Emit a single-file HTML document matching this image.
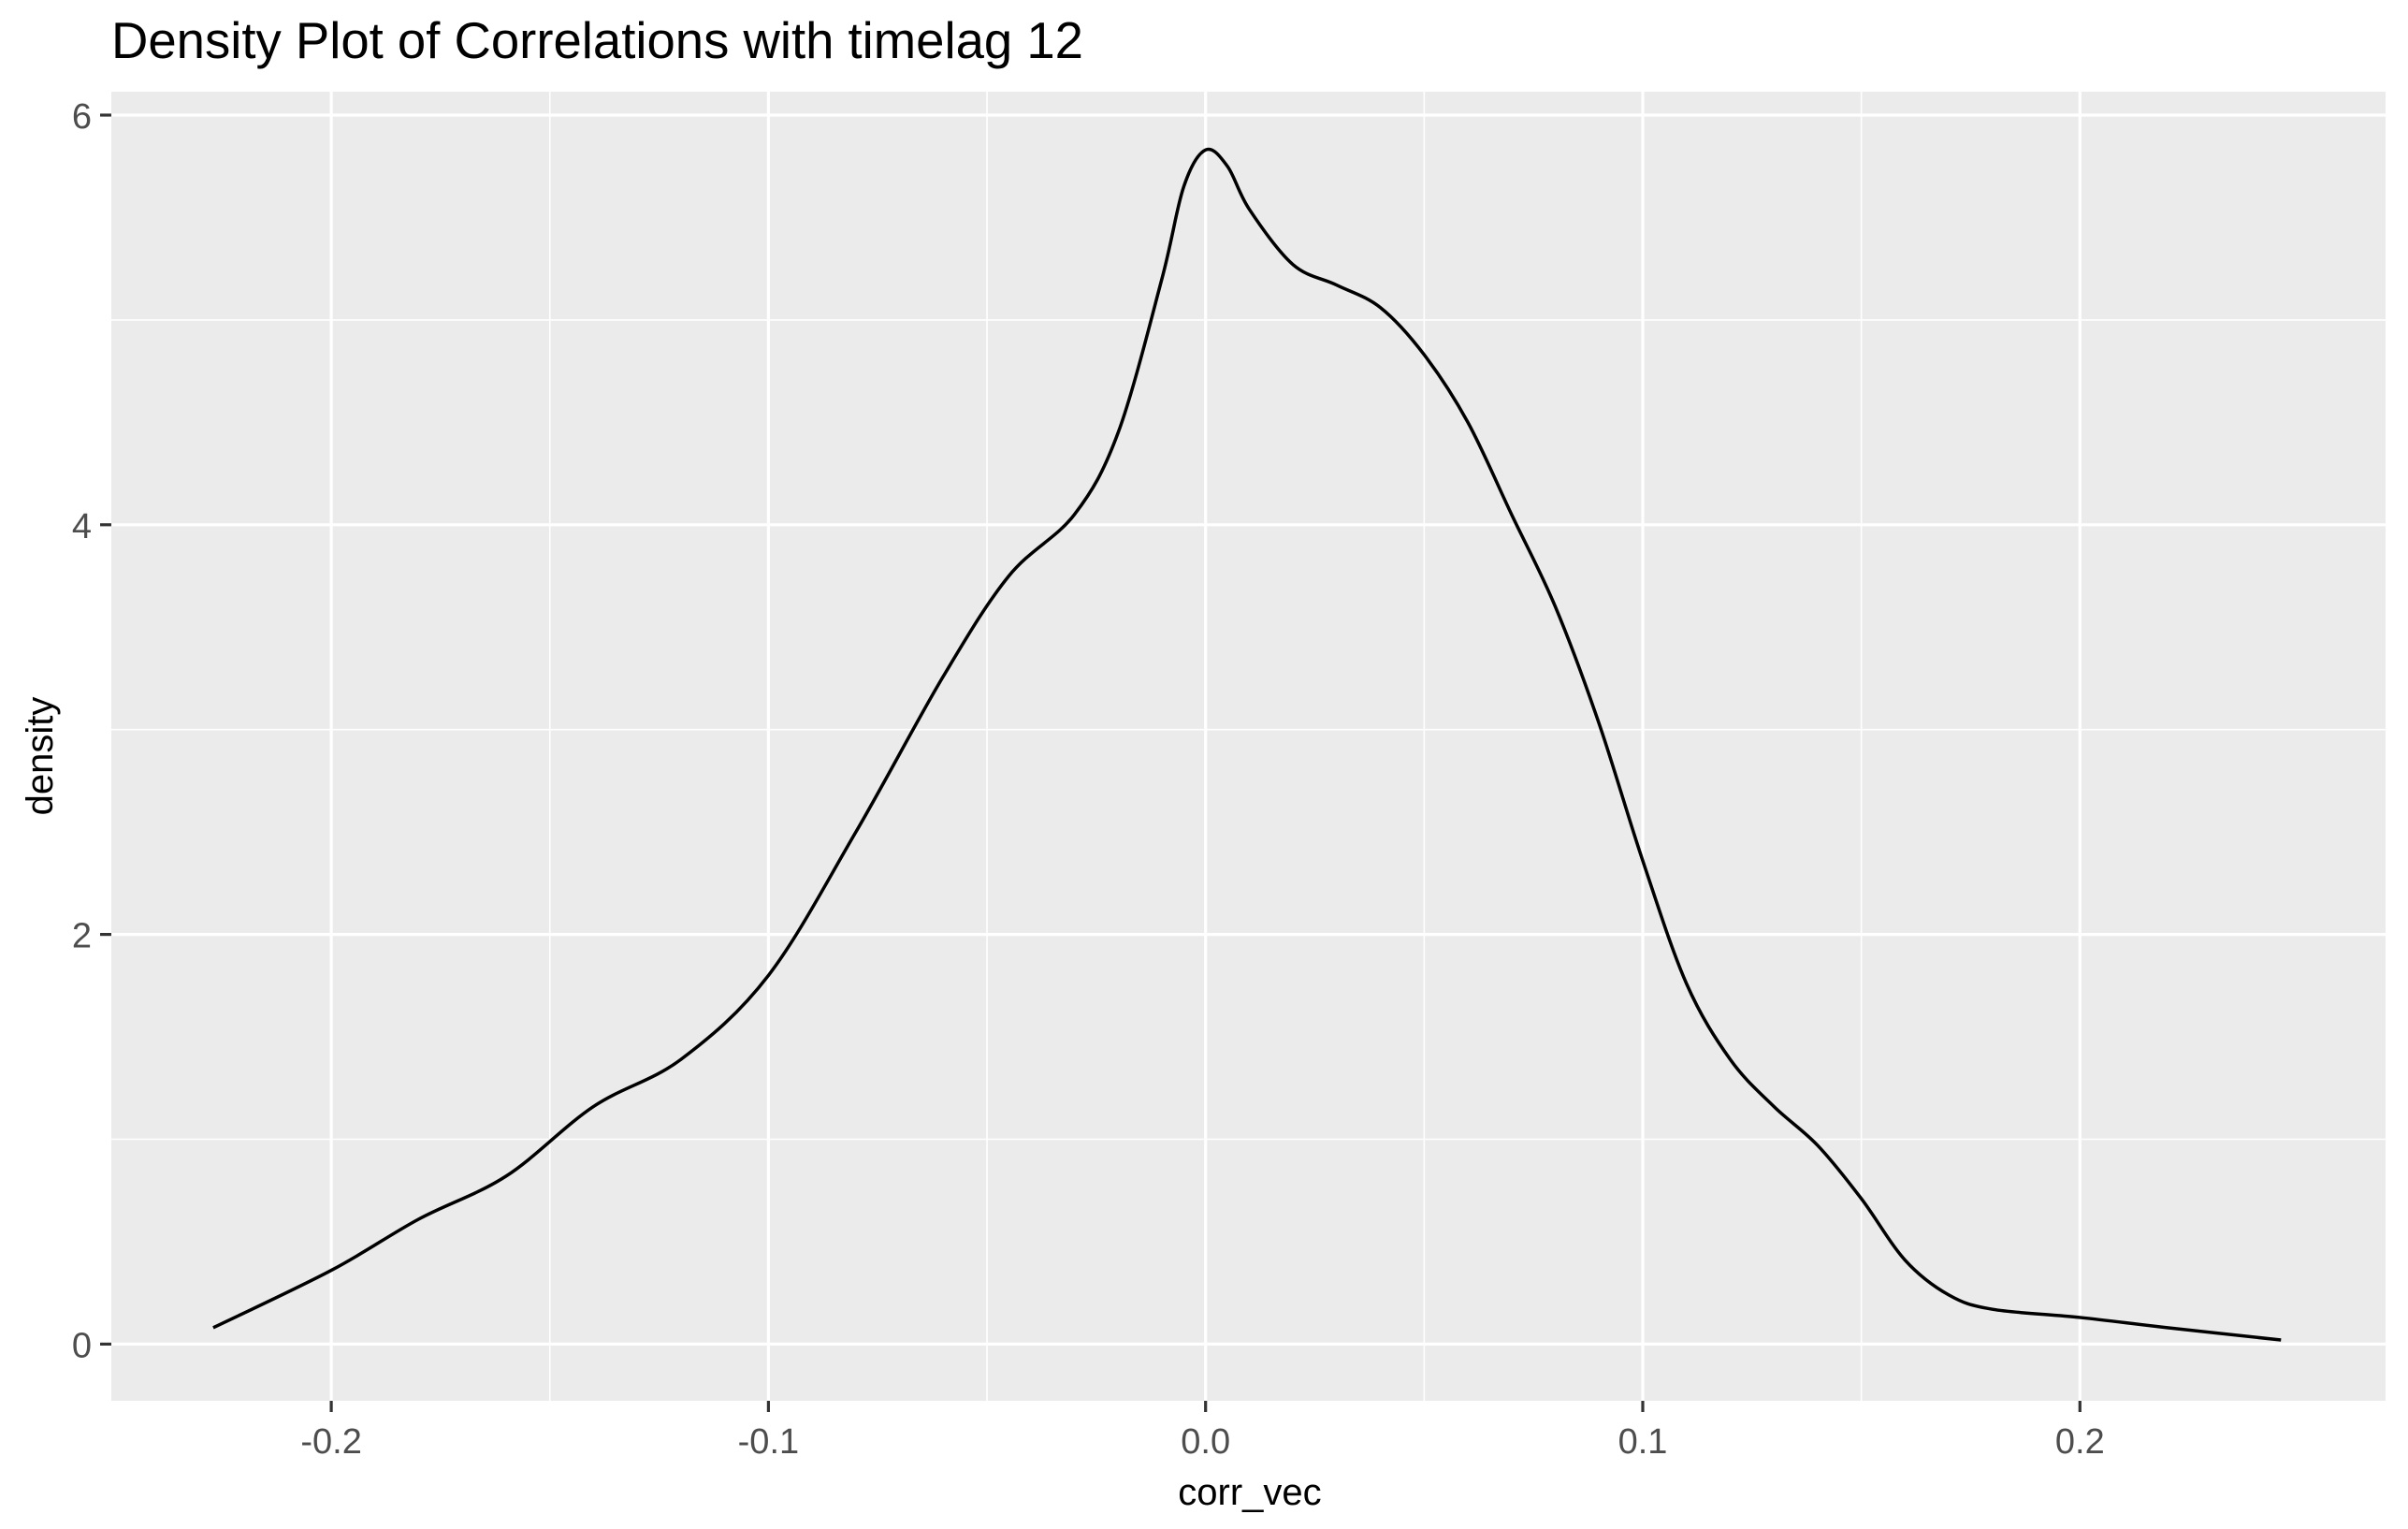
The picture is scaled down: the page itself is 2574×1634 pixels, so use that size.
<!DOCTYPE html>
<html><head><meta charset="utf-8"><style>
body{margin:0;background:#fff;}
svg{display:block;font-family:"Liberation Sans",sans-serif;}
</style></head><body>
<svg id="chart" width="2574" height="1634">
<text x="119" y="62" font-size="54.5" fill="#000">Density Plot of Correlations with timelag 12</text>
<rect x="119" y="98" width="2431" height="1399" fill="#ebebeb"/>
<g id="grid"></g>
<g id="axes"></g>
<path id="curve" fill="none" stroke="#000" stroke-width="3.5"/>
<text x="1336" y="1608" font-size="40" text-anchor="middle" fill="#000">corr_vec</text>
<text transform="translate(56,808) rotate(-90)" font-size="40" text-anchor="middle" fill="#000">density</text>
</svg>
<script>
const xVals=[-0.227,-0.2,-0.18,-0.16,-0.14,-0.12,-0.1,-0.08,-0.06,-0.045,-0.03,-0.02,-0.01,-0.005,0.0,0.005,0.01,0.02,0.03,0.04,0.05,0.06,0.07,0.08,0.09,0.1,0.11,0.12,0.13,0.14,0.15,0.16,0.17,0.18,0.2,0.22,0.246];
const yVals=[0.08,0.36,0.61,0.82,1.16,1.39,1.8,2.5,3.26,3.75,4.05,4.45,5.2,5.65,5.83,5.75,5.54,5.27,5.17,5.06,4.83,4.5,4.05,3.6,3.03,2.36,1.76,1.39,1.16,0.97,0.71,0.41,0.24,0.17,0.13,0.08,0.02];
const xTicks=[-0.2,-0.1,0.0,0.1,0.2];
const xTickLabels=["-0.2","-0.1","0.0","0.1","0.2"];
const yTicks=[0,2,4,6];
const yTickLabels=["0","2","4","6"];
const NS="http://www.w3.org/2000/svg";
const X0=1288.7,XS=4673,Y0=1436.4,YS=218.9;
const TOP=98,BOT=1497;
const sx=v=>X0+v*XS, sy=v=>Y0-v*YS;
const grid=document.getElementById('grid'),axes=document.getElementById('axes');
function ln(p,x1,y1,x2,y2,c,w){const l=document.createElementNS(NS,'line');l.setAttribute('x1',x1);l.setAttribute('y1',y1);l.setAttribute('x2',x2);l.setAttribute('y2',y2);l.setAttribute('stroke',c);l.setAttribute('stroke-width',w);p.appendChild(l);return l;}
function tx(p,x,y,s,a){const t=document.createElementNS(NS,'text');t.setAttribute('x',x);t.setAttribute('y',y);t.setAttribute('font-size',38);t.setAttribute('fill','#4d4d4d');t.setAttribute('text-anchor',a);t.textContent=s;p.appendChild(t);return t;}
for(let i=0;i<xTicks.length-1;i++){const m=(xTicks[i]+xTicks[i+1])/2;const l=ln(grid,sx(m),TOP,sx(m),BOT,'#fff',1.6);

}
for(let i=0;i<yTicks.length-1;i++){const m=(yTicks[i]+yTicks[i+1])/2;const l=ln(grid,119,sy(m),2550,sy(m),'#fff',1.6);

}
xTicks.forEach((v,i)=>{const l=ln(grid,sx(v),TOP,sx(v),BOT,'#fff',3.2);


const k=ln(axes,sx(v),BOT,sx(v),BOT+12,'#333',3.2);


const t=tx(axes,sx(v),1553,xTickLabels[i],'middle');

});
yTicks.forEach((v,i)=>{const l=ln(grid,119,sy(v),2550,sy(v),'#fff',3.2);


const k=ln(axes,107,sy(v),119,sy(v),'#333',3.2);


const t=tx(axes,98,sy(v)+14,yTickLabels[i],'end');

});
const P=xVals.map((x,i)=>[sx(x),sy(yVals[i])]);
let d='M'+P[0][0]+','+P[0][1];
for(let i=0;i<P.length-1;i++){const p0=P[Math.max(i-1,0)],p1=P[i],p2=P[i+1],p3=P[Math.min(i+2,P.length-1)];
const c1=[p1[0]+(p2[0]-p0[0])/6,p1[1]+(p2[1]-p0[1])/6],c2=[p2[0]-(p3[0]-p1[0])/6,p2[1]-(p3[1]-p1[1])/6];
d+=` C${c1[0]},${c1[1]} ${c2[0]},${c2[1]} ${p2[0]},${p2[1]}`;}
document.getElementById('curve').setAttribute('d',d);
</script>
</body></html>
